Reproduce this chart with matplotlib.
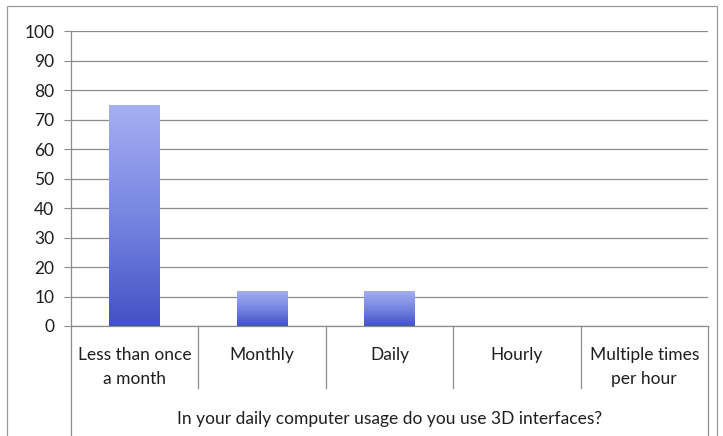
import matplotlib

matplotlib.use("Agg")
import matplotlib.pyplot as plt
import numpy as np
from matplotlib.patches import Rectangle
from matplotlib.colors import LinearSegmentedColormap

categories = ["Less than once\na month", "Monthly", "Daily", "Hourly", "Multiple times\nper hour"]
values = [75, 12, 12, 0, 0]
yticks = [0, 10, 20, 30, 40, 50, 60, 70, 80, 90, 100]
axis_title = "In your daily computer usage do you use 3D interfaces?"

plt.rcParams["font.family"] = ["Lato", "DejaVu Sans"]
plt.rcParams["text.color"] = "#1e1e1e"
plt.rcParams["xtick.labelcolor"] = "#1e1e1e"
plt.rcParams["ytick.labelcolor"] = "#1e1e1e"

W, H = 723, 436
fig = plt.figure(figsize=(W / 100, H / 100), dpi=100)
ax = fig.add_axes([71 / W, 1 - 326 / H, (708 - 71) / W, (326 - 31) / H])

# outer chart border
fig.patches.append(Rectangle((7 / W, -0.01), (717 - 7) / W, 1 - 6 / H + 0.01,
                             transform=fig.transFigure, fill=False, ec="#9a9a9a", lw=0.9))

x = np.arange(len(categories))
bars = ax.bar(x, values, width=0.4, color="none", zorder=3)

# vertical gradient fill, darker at the bottom of each bar
grad = LinearSegmentedColormap.from_list("g", ["#4252c4", "#7886e2", "#a6b0f3"])
g = np.linspace(0, 1, 256).reshape(-1, 1)
for b in bars:
    if b.get_height() <= 0:
        continue
    x0, y0 = b.get_x(), b.get_y()
    im = ax.imshow(g, cmap=grad, origin="lower", aspect="auto", zorder=3,
                   extent=(x0, x0 + b.get_width(), y0, y0 + b.get_height()))
    im.set_clip_path(b)

ax.set_xlim(-0.5, len(categories) - 0.5)
ax.set_ylim(0, 100)
ax.set_yticks(yticks)
ax.set_yticklabels([str(v) for v in yticks], fontsize=12.5)
ax.yaxis.grid(True, color="#8c8c8c", lw=0.9)
ax.set_axisbelow(True)
ax.tick_params(axis="y", length=5, color="#8c8c8c", pad=7)
ax.tick_params(axis="x", length=0, pad=15, labelsize=12.5)
ax.set_xticks(x)
ax.set_xticklabels(categories, linespacing=1.6)

for s in ["top", "right"]:
    ax.spines[s].set_visible(False)
for s in ["left", "bottom"]:
    ax.spines[s].set_color("#8c8c8c")
    ax.spines[s].set_linewidth(0.9)

# category separators below the axis
tr = ax.get_xaxis_transform()
for i, xb in enumerate(np.arange(-0.5, len(categories), 1.0)):
    bottom = -0.40 if i in (0, len(categories)) else -0.21
    ax.plot([xb, xb], [0, bottom], transform=tr, color="#8c8c8c", lw=0.9, clip_on=False)

ax.text(0.5, -(419 - 326) / 295, axis_title, transform=ax.transAxes,
        ha="center", va="center", fontsize=12.5)

fig.savefig("out.png", dpi=100)
